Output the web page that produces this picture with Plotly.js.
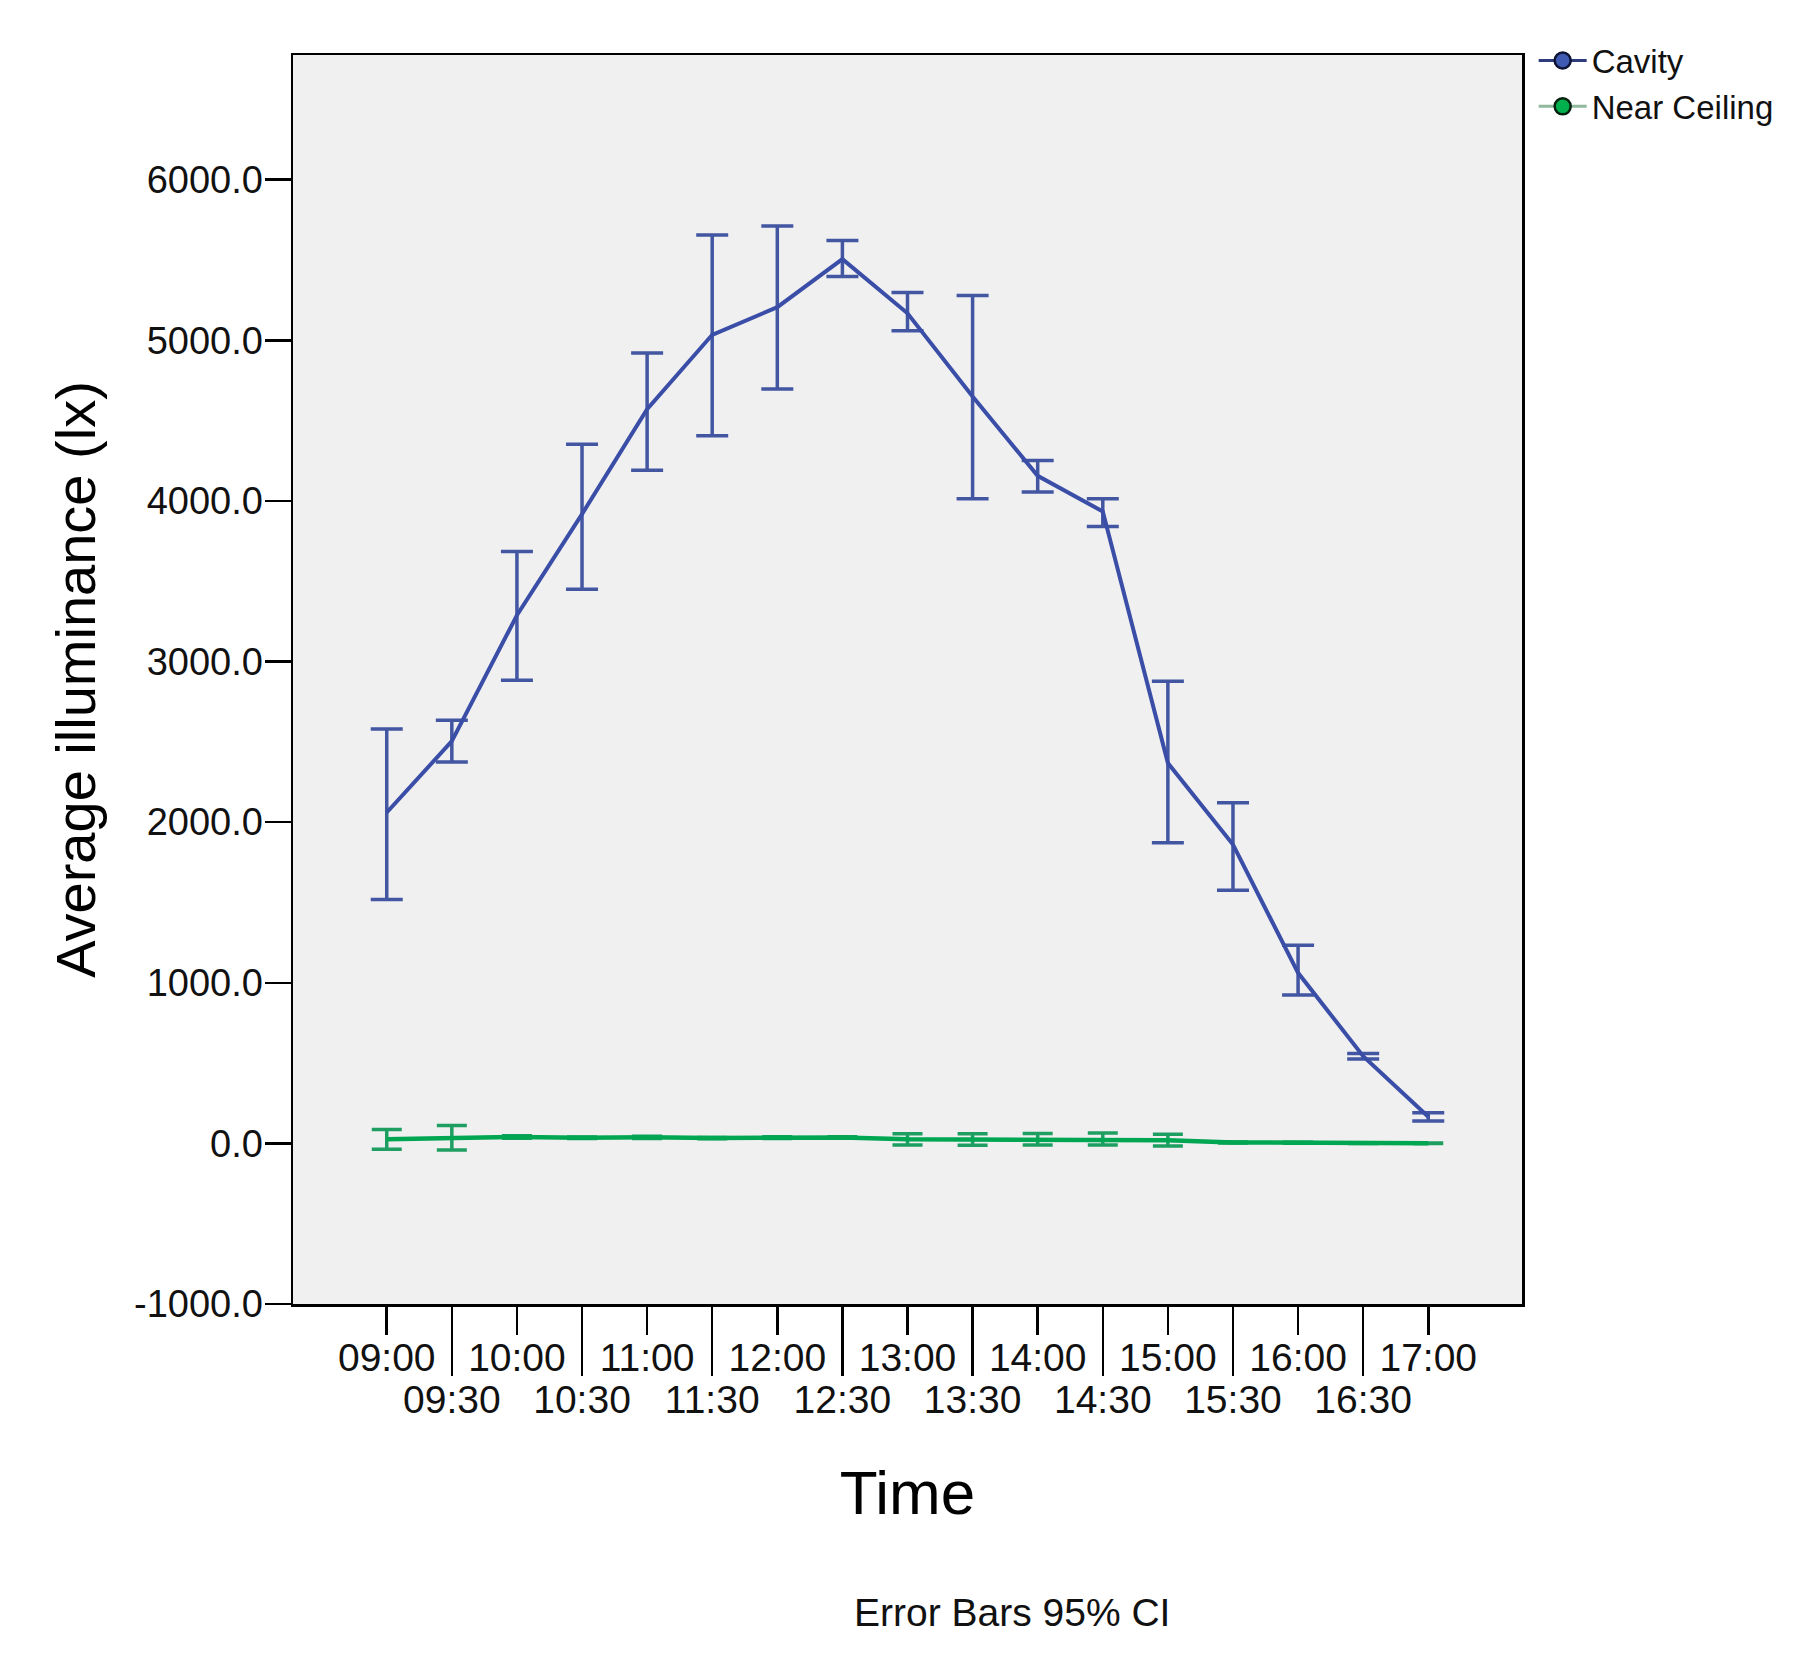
<!DOCTYPE html>
<html>
<head>
<meta charset="utf-8">
<script src="https://cdn.plot.ly/plotly-3.0.1.min.js"></script>
<style>html,body{margin:0;padding:0;background:#fff;}#chart{width:1811px;height:1675px;}</style>
</head>
<body>
<div id="chart"></div>
<script>
// ---- data ----
const times = ['09:00','09:30','10:00','10:30','11:00','11:30','12:00','12:30','13:00','13:30','14:00','14:30','15:00','15:30','16:00','16:30','17:00'];

const cavityMean  = [2060, 2504, 3288, 3918, 4571, 5034, 5206, 5505, 5168, 4650, 4156, 3934, 2368, 1860, 1062, 543, 166];
const cavityUpper = [2580, 2635, 3685, 4353, 4921, 5656, 5712, 5621, 5297, 5278, 4252, 4013, 2877, 2120, 1234, 560, 191];
const cavityLower = [1518, 2374, 2884, 3450, 4191, 4405, 4696, 5397, 5059, 4013, 4055, 3841, 1871, 1576,  923, 526, 139];

const ceilingMean  = [25,  35, 40, 35, 38, 33, 36, 37,  25,  24,  26,  27,  20, 6, 4, 2,  1];
const ceilingUpper = [87, 112, 48, 40, 45, 37, 42, 42,  60,  60,  62,  64,  57, 9, 7, 4,  3];
const ceilingLower = [-37, -42, 32, 30, 31, 29, 30, 32, -10, -12, -10, -10, -17, 3, 1, 0, -1];

const yTickVals   = [-1000, 0, 1000, 2000, 3000, 4000, 5000, 6000];
const yTickLabels = ['-1000.0', '0.0', '1000.0', '2000.0', '3000.0', '4000.0', '5000.0', '6000.0'];

const evenTimes = times.filter((t, i) => i % 2 === 0);
const oddTimes  = times.filter((t, i) => i % 2 === 1);

const FONT = 'Liberation Sans, Arial, sans-serif';
const BLUE = '#3a4ea8', BLUE_ERR = '#4356a2';
const GREEN = '#00a651', GREEN_ERR = '#1f9e62';

const plus  = (m, u) => u.map((v, i) => v - m[i]);
const minus = (m, l) => l.map((v, i) => m[i] - v);

const traces = [
  {
    name: 'Near Ceiling', x: times, y: ceilingMean, xaxis: 'x2', yaxis: 'y',
    type: 'scatter', mode: 'lines', showlegend: false,
    line: {color: GREEN, width: 4.5},
    error_y: {type: 'data', symmetric: false, array: plus(ceilingMean, ceilingUpper),
              arrayminus: minus(ceilingMean, ceilingLower), color: GREEN_ERR, thickness: 3.5, width: 15}
  },
  {
    name: 'Cavity', x: times, y: cavityMean, xaxis: 'x', yaxis: 'y',
    type: 'scatter', mode: 'lines', showlegend: false,
    line: {color: BLUE, width: 4},
    error_y: {type: 'data', symmetric: false, array: plus(cavityMean, cavityUpper),
              arrayminus: minus(cavityMean, cavityLower), color: BLUE_ERR, thickness: 3.5, width: 16}
  },
  {
    name: 'Cavity', x: [null], y: [null], type: 'scatter', mode: 'lines+markers',
    line: {color: '#2e3c7c', width: 3},
    marker: {size: 27, color: '#3f5ab2', line: {color: '#0d1436', width: 2.5}}
  },
  {
    name: 'Near Ceiling', x: [null], y: [null], type: 'scatter', mode: 'lines+markers',
    line: {color: '#8fb89c', width: 3},
    marker: {size: 27, color: '#00b04c', line: {color: '#06220f', width: 2.5}}
  }
];

const axisCommon = {
  type: 'category', categoryorder: 'array', categoryarray: times,
  range: [-1.44, 17.44], tickmode: 'array',
  ticks: 'outside', tickwidth: 2.5, tickcolor: '#000',
  showgrid: false, zeroline: false, automargin: false,
  ticklabelstandoff: -10,
  tickfont: {family: FONT, size: 39, color: '#111'}
};

const layout = {
  width: 1811, height: 1675,
  paper_bgcolor: '#ffffff', plot_bgcolor: '#f0f0f0',
  margin: {l: 293, r: 289, t: 55, b: 371, pad: 0, autoexpand: false},
  font: {family: FONT, color: '#000'},
  showlegend: true,
  legend: {x: 1.0095, xanchor: 'left', y: 1.018, yanchor: 'top',
           font: {family: FONT, size: 33, color: '#111'}, bgcolor: 'rgba(0,0,0,0)',
           tracegroupgap: 0, itemwidth: 48},
  xaxis: Object.assign({}, axisCommon, {
    tickvals: evenTimes, ticktext: evenTimes, ticklen: 28,
    showline: true, linecolor: '#000', linewidth: 2.5, mirror: true,
    title: {text: 'Time', font: {family: FONT, size: 62, color: '#000'}, standoff: 93}
  }),
  xaxis2: Object.assign({}, axisCommon, {
    overlaying: 'x', anchor: 'y', side: 'bottom',
    tickvals: oddTimes, ticktext: oddTimes, ticklen: 71, showline: false
  }),
  yaxis: {
    range: [-1000, 6776], tickmode: 'array', tickvals: yTickVals, ticktext: yTickLabels,
    ticks: 'outside', ticklen: 26, tickwidth: 2.5, tickcolor: '#000',
    showline: true, linecolor: '#000', linewidth: 2.5, mirror: true,
    showgrid: false, zeroline: false, automargin: false,
    ticklabelstandoff: -6,
    tickfont: {family: FONT, size: 38, color: '#111'},
    title: {text: 'Average illuminance (lx)', font: {family: FONT, size: 56, color: '#000'}, standoff: 21}
  },
  annotations: [
    {text: 'Error Bars 95% CI', xref: 'paper', yref: 'paper', x: 0.585, y: -0.2466,
     xanchor: 'center', yanchor: 'middle', showarrow: false,
     font: {family: FONT, size: 39, color: '#111'}}
  ]
};

Plotly.newPlot('chart', traces, layout, {displayModeBar: false, staticPlot: true});
</script>
</body>
</html>
